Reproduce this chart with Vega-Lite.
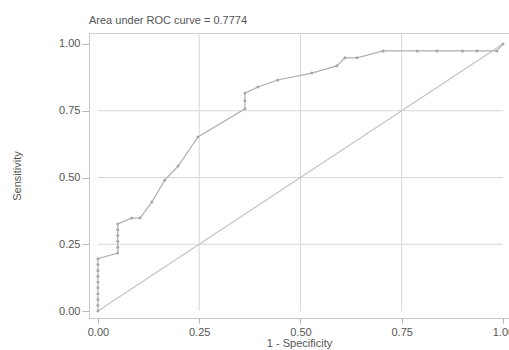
{
  "$schema": "https://vega.github.io/schema/vega-lite/v6.json",
  "width": 420,
  "height": 285,
  "autosize": {"type": "none"},
  "padding": {"left": 89, "top": 33, "right": 0, "bottom": 32},
  "background": "white",
  "title": {"text": "Area under ROC curve = 0.7774", "anchor": "start", "frame": "group", "fontSize": 11, "fontWeight": "normal", "font": "Liberation Sans", "color": "#555555", "offset": 7},
  "config": {
    "view": {"stroke": "#cfcfcf", "strokeWidth": 1},
    "axis": {"labelFont": "Liberation Sans", "titleFont": "Liberation Sans", "labelColor": "#555555", "titleColor": "#555555", "labelFontSize": 11, "titleFontSize": 11, "titleFontWeight": "normal", "domainColor": "#c8c8c8", "tickColor": "#b8b8b8", "grid": false}
  },
  "datasets": {
    "roc": [
      {"fpr": 0.0, "tpr": 0.0},
      {"fpr": 0.0, "tpr": 0.022},
      {"fpr": 0.0, "tpr": 0.043},
      {"fpr": 0.0, "tpr": 0.065},
      {"fpr": 0.0, "tpr": 0.087},
      {"fpr": 0.0, "tpr": 0.109},
      {"fpr": 0.0, "tpr": 0.13},
      {"fpr": 0.0, "tpr": 0.152},
      {"fpr": 0.0, "tpr": 0.174},
      {"fpr": 0.0, "tpr": 0.196},
      {"fpr": 0.049, "tpr": 0.217},
      {"fpr": 0.049, "tpr": 0.239},
      {"fpr": 0.049, "tpr": 0.261},
      {"fpr": 0.049, "tpr": 0.283},
      {"fpr": 0.049, "tpr": 0.304},
      {"fpr": 0.049, "tpr": 0.326},
      {"fpr": 0.083, "tpr": 0.348},
      {"fpr": 0.104, "tpr": 0.348},
      {"fpr": 0.133, "tpr": 0.408},
      {"fpr": 0.165, "tpr": 0.49},
      {"fpr": 0.198, "tpr": 0.543},
      {"fpr": 0.247, "tpr": 0.652},
      {"fpr": 0.363, "tpr": 0.757},
      {"fpr": 0.363, "tpr": 0.787},
      {"fpr": 0.363, "tpr": 0.816},
      {"fpr": 0.395, "tpr": 0.839},
      {"fpr": 0.444, "tpr": 0.865},
      {"fpr": 0.528, "tpr": 0.891},
      {"fpr": 0.59, "tpr": 0.918},
      {"fpr": 0.61, "tpr": 0.948},
      {"fpr": 0.64, "tpr": 0.948},
      {"fpr": 0.704, "tpr": 0.974},
      {"fpr": 0.788, "tpr": 0.974},
      {"fpr": 0.837, "tpr": 0.974},
      {"fpr": 0.9, "tpr": 0.974},
      {"fpr": 0.936, "tpr": 0.974},
      {"fpr": 0.985, "tpr": 0.974},
      {"fpr": 1.0, "tpr": 1.0}
    ],
    "diag": [{"fpr": 0, "tpr": 0}, {"fpr": 1, "tpr": 1}],
    "hgrid": [{"v": 0.25}, {"v": 0.5}, {"v": 0.75}],
    "vgrid": [{"v": 0.25}, {"v": 0.5}, {"v": 0.75}]
  },
  "layer": [
    {
      "data": {"name": "hgrid"},
      "mark": {"type": "rule", "color": "#d6d6d6", "strokeWidth": 1},
      "encoding": {
        "y": {"field": "v", "type": "quantitative", "title": "Sensitivity",
          "scale": {"domain": [-0.026, 1.041], "nice": false, "zero": false},
          "axis": {"values": [0, 0.25, 0.5, 0.75, 1], "format": ".2f", "tickSize": 7, "labelPadding": 2, "titlePadding": 36, "labelAngle": 0, "domain": true}},
        "x": {"datum": 0, "type": "quantitative", "title": "1 - Specificity",
          "scale": {"domain": [-0.022, 1.015], "nice": false, "zero": false},
          "axis": {"values": [0, 0.25, 0.5, 0.75, 1], "format": ".2f", "tickSize": 5, "labelPadding": 3, "titlePadding": 0, "domain": true}},
        "x2": {"datum": 1}
      }
    },
    {
      "data": {"name": "vgrid"},
      "mark": {"type": "rule", "color": "#d6d6d6", "strokeWidth": 1},
      "encoding": {
        "x": {"field": "v", "type": "quantitative", "title": "1 - Specificity"},
        "y": {"datum": 0, "type": "quantitative", "title": "Sensitivity"},
        "y2": {"datum": 1.041}
      }
    },
    {
      "data": {"name": "diag"},
      "mark": {"type": "line", "color": "#c4c4c4", "strokeWidth": 1.2},
      "encoding": {
        "x": {"field": "fpr", "type": "quantitative", "title": "1 - Specificity"},
        "y": {"field": "tpr", "type": "quantitative", "title": "Sensitivity"}
      }
    },
    {
      "data": {"name": "roc"},
      "mark": {"type": "line", "color": "#b0b0b0", "strokeWidth": 1.2, "point": {"filled": true, "size": 9, "color": "#a8a8a8"}},
      "encoding": {
        "x": {"field": "fpr", "type": "quantitative", "title": "1 - Specificity"},
        "y": {"field": "tpr", "type": "quantitative", "title": "Sensitivity"},
        "order": {"field": "fpr", "type": "quantitative"}
      }
    }
  ]
}
